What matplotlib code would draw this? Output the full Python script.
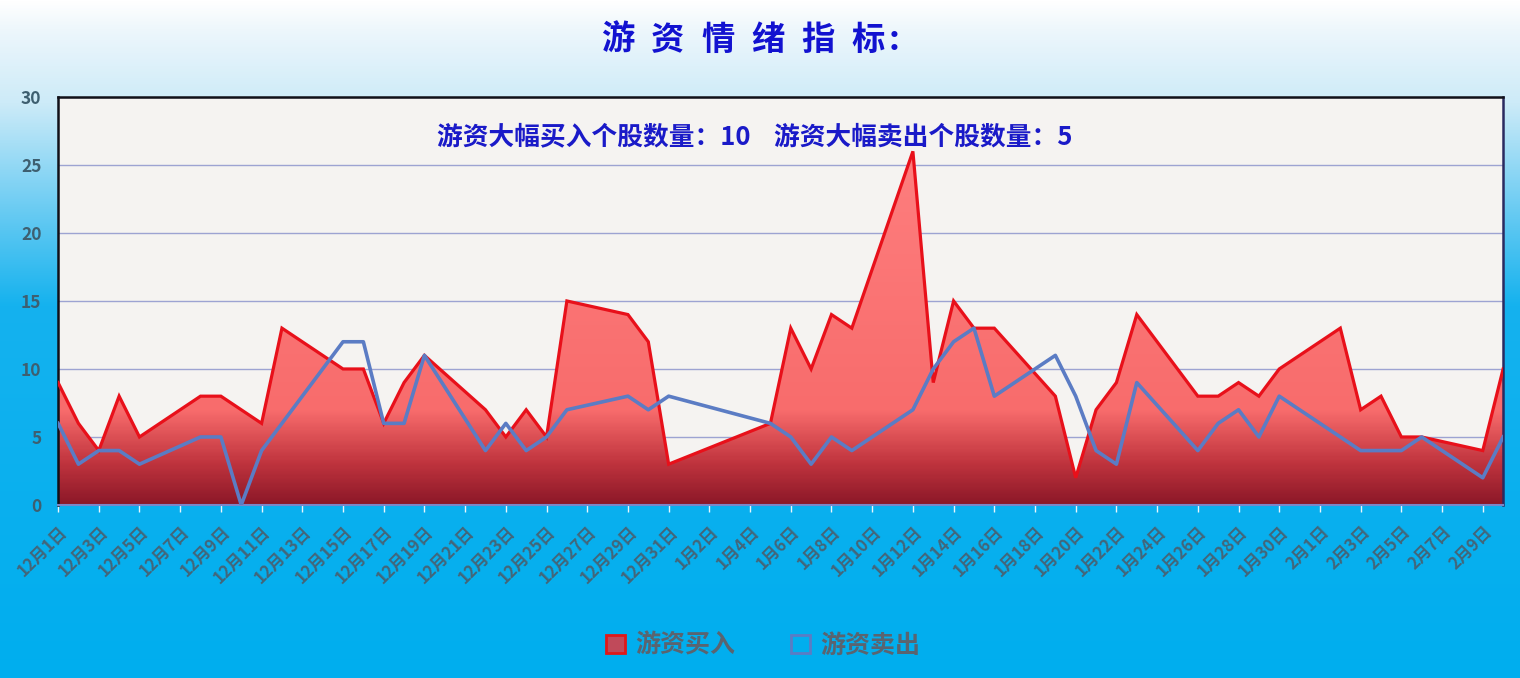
import datetime as dt
import numpy as np
import matplotlib
matplotlib.use('Agg')
import matplotlib.pyplot as plt
import matplotlib.dates as mdates
from matplotlib.colors import LinearSegmentedColormap
from matplotlib.patches import Patch, PathPatch
from matplotlib.ticker import FuncFormatter

plt.rcParams['font.family'] = ['Noto Sans CJK SC', 'DejaVu Sans']

# trading days (2014-12 .. 2015-02)
dec_days = [1, 2, 3, 4, 5, 8, 9, 10, 11, 12, 15, 16, 17, 18, 19, 22, 23, 24, 25, 26, 29, 30, 31]
jan_days = [5, 6, 7, 8, 9, 12, 13, 14, 15, 16, 19, 20, 21, 22, 23, 26, 27, 28, 29, 30]
feb_days = [2, 3, 4, 5, 6, 9, 10]

# 游资买入
buy = [9, 6, 4, 8, 5, 8, 8, 7, 6, 13, 10, 10, 6, 9, 11, 7, 5, 7, 5, 15, 14, 12, 3,
       6, 13, 10, 14, 13, 26, 9, 15, 13, 13, 8, 2, 7, 9, 14, 8, 8, 9, 8, 10,
       13, 7, 8, 5, 5, 4, 10]
# 游资卖出
sell = [6, 3, 4, 4, 3, 5, 5, 0, 4, 6, 12, 12, 6, 6, 11, 4, 6, 4, 5, 7, 8, 7, 8,
        6, 5, 3, 5, 4, 7, 10, 12, 13, 8, 11, 8, 4, 3, 9, 4, 6, 7, 5, 8,
        5, 4, 4, 4, 5, 2, 5]

buy_count = 10
sell_count = 5
title = "游资情绪指标:"

dates = ([dt.date(2014, 12, d) for d in dec_days] +
         [dt.date(2015, 1, d) for d in jan_days] +
         [dt.date(2015, 2, d) for d in feb_days])
x = mdates.date2num(dates)
buy = np.array(buy, dtype=float)
sell = np.array(sell, dtype=float)

fig = plt.figure(figsize=(15.2, 6.78), dpi=100)

# figure background: white -> sky blue
bg = fig.add_axes([0, 0, 1, 1], zorder=-10)
bg_cmap = LinearSegmentedColormap.from_list('bg', [
    (0.0, '#ffffff'), (0.04, '#eef7fc'), (0.15, '#cdebf8'),
    (0.30, '#6fcdf3'), (0.45, '#15b2ee'), (1.0, '#00aeef')])
bg.imshow(np.linspace(0, 1, 256).reshape(-1, 1), aspect='auto', cmap=bg_cmap,
          extent=[0, 1, 0, 1], origin='upper')
bg.set_axis_off()

ax = fig.add_axes([0.0382, 0.2552, 0.9507, 0.6018])
ax.set_facecolor('#f5f3f1')

# red area with vertical gradient
fill = ax.fill_between(x, 0, buy, facecolor='none', edgecolor='none')
red_cmap = LinearSegmentedColormap.from_list('red', [
    (0.0, '#8c1828'), (0.1, '#c0343e'), (0.23, '#f86c6c'), (1.0, '#ff8282')])
grad = ax.imshow(np.linspace(1, 0, 300).reshape(-1, 1), aspect='auto', cmap=red_cmap,
                 extent=[x[0], x[-1], 0, 30], origin='upper', zorder=2)
clip = PathPatch(fill.get_paths()[0], transform=ax.transData, facecolor='none', edgecolor='none')
ax.add_patch(clip)
grad.set_clip_path(clip)
ax.set_xlim(x[0], x[-1])
ax.set_ylim(0, 30)

ax.plot(x, buy, color='#e8101a', lw=2.3, zorder=4, solid_joinstyle='miter')
ax.plot(x, sell, color='#5b7cc4', lw=2.6, zorder=5)

ax.set_yticks(np.arange(0, 31, 5))
ax.grid(axis='y', color='#9da3d2', lw=1.0, zorder=1)
ax.set_axisbelow(True)

ax.set_xticks(np.arange(x[0], x[-1] + 0.5, 2))
ax.xaxis.set_major_formatter(FuncFormatter(
    lambda v, p: f"{mdates.num2date(v).month}月{mdates.num2date(v).day}日"))
plt.setp(ax.get_xticklabels(), rotation=45, ha='right', va='top', rotation_mode='anchor',
         fontsize=12, fontweight='bold', color='#43667a')
ax.tick_params(axis='x', length=5, width=1, color='#e8f6fc', pad=8)
ax.tick_params(axis='y', length=0, pad=12, labelsize=12.5, labelcolor='#3e5f70')
for t in ax.get_yticklabels():
    t.set_fontweight('bold')

for s in ['top', 'left', 'right']:
    ax.spines[s].set_color('#101018')
    ax.spines[s].set_linewidth(1.8)
ax.spines['right'].set_color('#2a2a60')
ax.spines['bottom'].set_color('#7a86c8')
ax.spines['bottom'].set_linewidth(1.5)

ax.text(0.482, 27.1, f"游资大幅买入个股数量：{buy_count}    游资大幅卖出个股数量：{sell_count}",
        transform=ax.get_yaxis_transform(), ha='center', va='center',
        fontsize=18.5, fontweight='bold', color='#1a1ac8', zorder=6)

# spaced-out title, one character at a time
for i, ch in enumerate(title):
    fig.text((618 + 50 * i - (24 if ch == ':' else 0)) / 1520, 0.94, ch, ha='center', va='center',
             fontsize=24, fontweight='bold', color='#1212d0')

handles = [Patch(facecolor='#c04a5a', edgecolor='#e01818', lw=2),
           Patch(facecolor='none', edgecolor='#5b7cc4', lw=2)]
fig.legend(handles, ['游资买入', '游资卖出'], loc='center', bbox_to_anchor=(0.502, 0.048),
           ncol=2, frameon=False, handlelength=0.75, handleheight=0.75, columnspacing=2.25,
           handletextpad=0.4, prop={'size': 18, 'weight': 'bold'}, labelcolor='#5a6470')

fig.savefig('out.png', dpi=100)
